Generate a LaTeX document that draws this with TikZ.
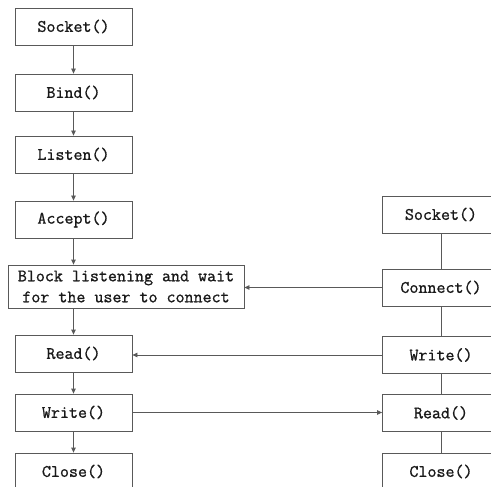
\documentclass[tikz,border=0pt]{standalone}
\usepackage{fontspec}
\newfontfamily\boxfont{Latin Modern Mono}[FakeBold=1.0]
\usetikzlibrary{arrows.meta}
\begin{document}
\begin{tikzpicture}[x=1pt,y=-1pt,
  box/.style={draw=black!65,line width=0.8pt,minimum width=117pt,minimum height=37pt,inner sep=0pt,
    font=\fontsize{17.5}{21}\boxfont,text=black!90},
  wide/.style={box,minimum width=236pt,minimum height=43pt,align=center},
  arr/.style={draw=black!65,line width=0.8pt,-{Triangle[length=5pt,width=4.5pt]}},
  ln/.style={draw=black!65,line width=0.8pt}]
\useasboundingbox (0,0) rectangle (491,487);
\clip (0,0) rectangle (491,487);
\fill[white] (0,0) rectangle (491,487);
% server column
\node[box] (ssock) at (73.5,26.5) {Socket()};
\node[box] (bind) at (73.5,92.5) {Bind()};
\node[box] (listen) at (73.5,154.5) {Listen()};
\node[box] (accept) at (73.5,219.5) {Accept()};
\node[wide] (block) at (126,286.5) {Block listening and wait\\for the user to connect};
\node[box] (sread) at (73.5,353.5) {Read()};
\node[box] (swrite) at (73.5,412.5) {Write()};
\node[box] (sclose) at (73.5,471.5) {Close()};
% client column
\node[box] (csock) at (441,214.5) {Socket()};
\node[box] (conn) at (441,287.5) {Connect()};
\node[box] (cwrite) at (441,355) {Write()};
\node[box] (cread) at (441,413) {Read()};
\node[box] (cclose) at (441,471.5) {Close()};
% server arrows
\draw[arr] (ssock) -- (bind);
\draw[arr] (bind) -- (listen);
\draw[arr] (listen) -- (accept);
\draw[arr] (accept.south) -- (accept.south |- block.north);
\draw[arr] (block.south -| sread.north) -- (sread.north);
\draw[arr] (sread) -- (swrite);
\draw[arr] (swrite) -- (sclose);
% client lines
\draw[ln] (csock) -- (conn);
\draw[ln] (conn) -- (cwrite);
\draw[ln] (cwrite) -- (cread);
\draw[ln] (cread) -- (cclose);
% cross arrows
\draw[arr] (conn.west) -- (conn.west -| block.east);
\draw[arr] (cwrite.west) -- (cwrite.west -| sread.east);
\draw[arr] (swrite.east) -- (swrite.east -| cread.west);
\end{tikzpicture}
\end{document}
